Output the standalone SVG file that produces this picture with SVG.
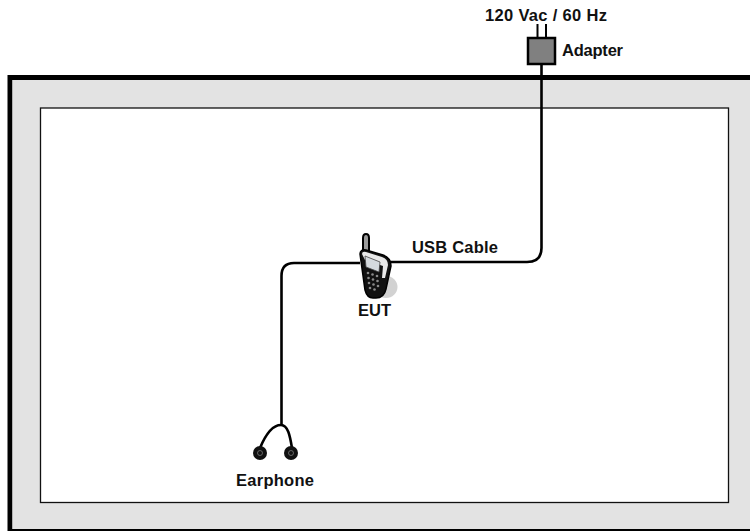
<svg xmlns="http://www.w3.org/2000/svg" width="750" height="531" viewBox="0 0 750 531">
<style>
text{font-family:"Liberation Sans",Arial,sans-serif;font-size:16.500px;font-weight:bold;fill:#111}
.w{fill:none;stroke:#000;stroke-width:2.600}
</style>
<rect width="750" height="531" fill="#fff"/>
<g id="room">
<path d="M750 80H12.500V529H750V531H7.500V75H750Z" fill="#000"/>
<rect x="12.500" y="80" width="737.500" height="449" fill="#e3e3e3"/>
<rect x="40.500" y="108" width="688" height="394.500" fill="#fff" stroke="#111" stroke-width="1.300"/>
</g>
<g id="connectors">
<path class="w" d="M541.500 64V248Q541.500 262 527 262H385"/>
<path class="w" d="M360 263H294Q281.500 263 281.500 276V426"/>
<path d="M260 448C265 436 272 425 281 425C288 425 290 436 292 448" fill="none" stroke="#000" stroke-width="2.600"/>
</g>
<g id="adapter">
<path d="M537.500 24V37M546 24V37" stroke="#000" stroke-width="2" fill="none"/>
<rect x="528" y="38" width="27" height="26" fill="#808080" stroke="#000" stroke-width="2.500"/>
<text x="562" y="56" textLength="61">Adapter</text>
<text x="485" y="21" textLength="122">120 Vac / 60 Hz</text>
</g>
<g id="eut">
<ellipse cx="386" cy="287" rx="11.500" ry="11" fill="#d2d2d2"/>
<path d="M363 252V238Q363 234 366 234Q369 234 369 238V252Z" fill="#9a9a9a" stroke="#000" stroke-width="2"/>
<path d="M360 254Q360 249 366 250L383 255Q391 258 391 266L386 289Q384 298 376 298H373Q367 298 365 290Z" fill="#111" stroke="#000" stroke-width="1.500"/>
<path d="M362 254Q362 251 366 252L382 257Q388 259 388 265L385 278L382 278L383 266L365 260Z" fill="#e8e8e8"/>
<path d="M365 256L380 262L379 272L366 267Z" fill="#d5dade" stroke="#444" stroke-width="0.800"/>
<g fill="#8a8a8a"><circle cx="368" cy="273" r="1.300"/><circle cx="372.500" cy="274.500" r="1.300"/><circle cx="377" cy="276" r="1.300"/><circle cx="368.500" cy="278" r="1.300"/><circle cx="373" cy="279.500" r="1.300"/><circle cx="377.500" cy="281" r="1.300"/><circle cx="369" cy="283" r="1.300"/><circle cx="373.500" cy="284.500" r="1.300"/><circle cx="378" cy="286" r="1.300"/><circle cx="370" cy="288" r="1.300"/><circle cx="374.500" cy="289.500" r="1.300"/></g>
<text x="358" y="316" textLength="33">EUT</text>
</g>
<g id="usb-cable-label"><text x="412" y="253" textLength="86">USB Cable</text></g>
<g id="earphone">
<circle cx="260" cy="453" r="7" fill="#111"/><circle cx="260" cy="453" r="2.500" fill="none" stroke="#888" stroke-width="0.700"/>
<circle cx="291" cy="453" r="7" fill="#111"/><circle cx="291" cy="453" r="2.500" fill="none" stroke="#888" stroke-width="0.700"/>
<text x="236" y="486" textLength="78">Earphone</text>
</g>
</svg>
